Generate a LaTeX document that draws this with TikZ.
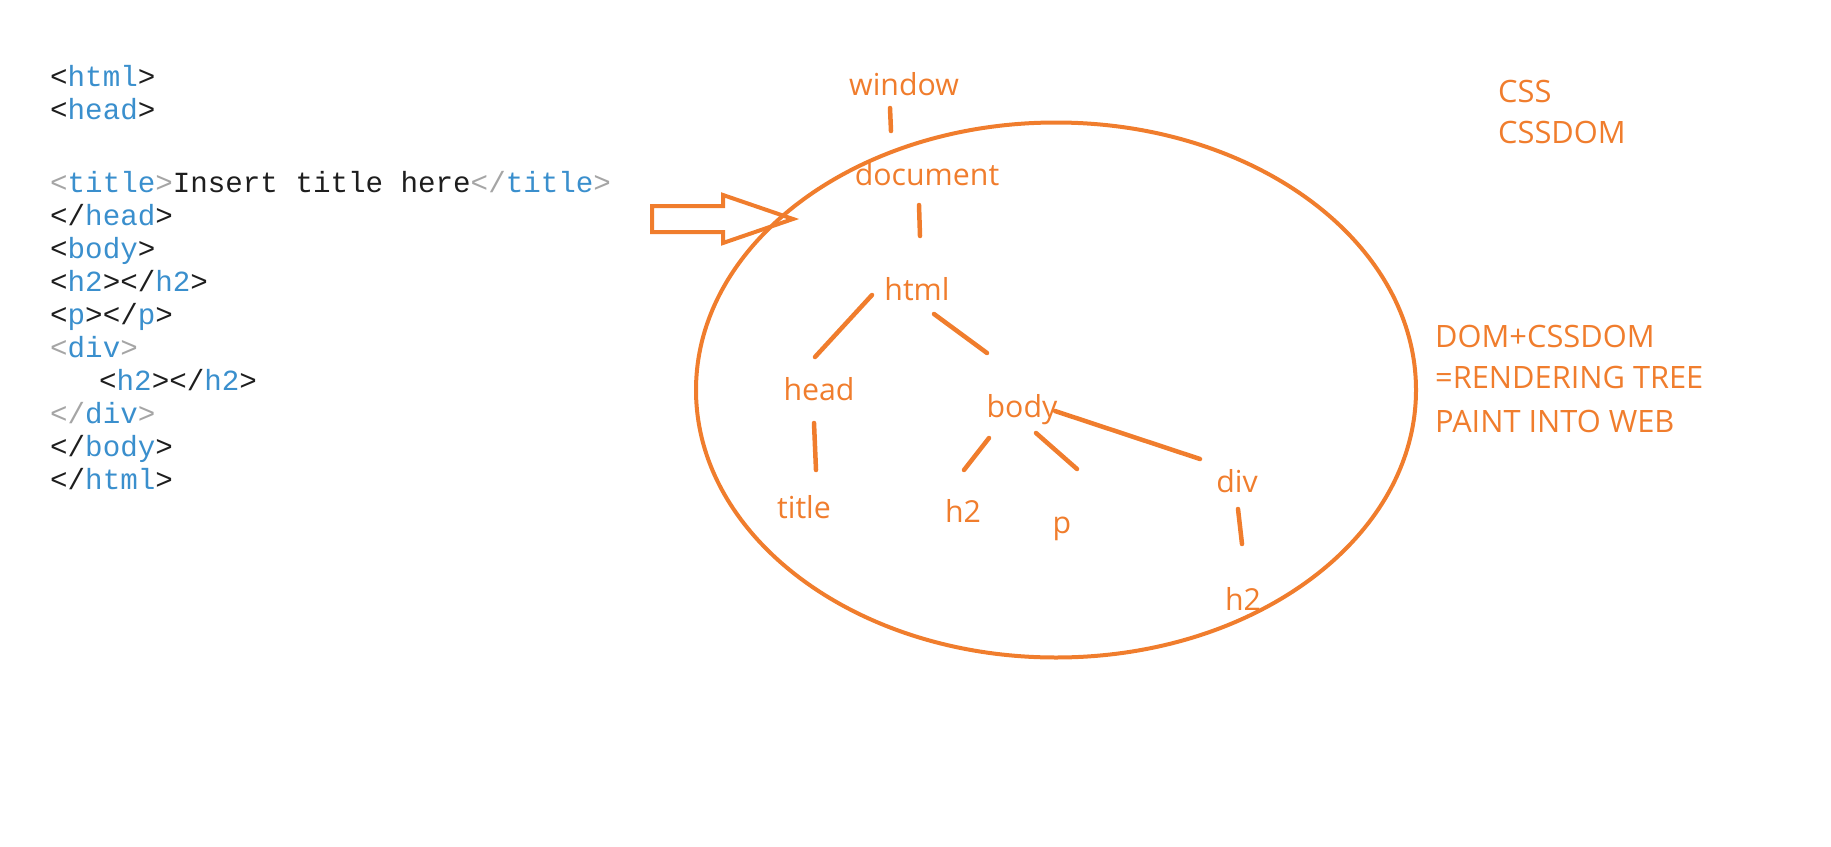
\documentclass[tikz,border=0pt]{standalone}
\usepackage{fontspec}
\setmainfont{Open Sans}
\setmonofont{Liberation Mono}
\usepackage{xcolor}
\usetikzlibrary{calc}
\definecolor{tagblue}{RGB}{58,143,205}
\definecolor{taggray}{RGB}{165,165,165}
\definecolor{codeblack}{RGB}{30,30,30}
\definecolor{domorange}{RGB}{240,125,45}
\newcommand\tg[1]{\textcolor{tagblue}{#1}}
\newcommand\gy[1]{\textcolor{taggray}{#1}}

\begin{document}
\begin{tikzpicture}[x=1pt, y=-1pt,
  code/.style={anchor=base west, inner sep=0pt, text=codeblack, font=\ttfamily\fontsize{29.2}{33}\selectfont},
  dom/.style={anchor=base, inner sep=0pt, text=domorange, font=\fontsize{30.3}{36}\selectfont},
  note/.style={anchor=base west, inner sep=0pt, text=domorange, font=\fontsize{30.8}{37}\selectfont},
  e/.style={line width=4.5pt, line cap=round, domorange}
]
  \useasboundingbox (0,0) rectangle (1831,846);

  % html source
  \node[code] (l1) at (50,86) {<\tg{html}>};
  \node[code] (l2) at (50,119) {<\tg{head}>};
  \node[code] (l3) at (50,192) {\gy{<}\tg{title}\gy{>}Insert title here\gy{</}\tg{title}\gy{>}};
  \node[code] (l4) at (50,225) {</\tg{head}>};
  \node[code] (l5) at (50,258) {<\tg{body}>};
  \node[code] (l6) at (50,291) {<\tg{h2}></\tg{h2}>};
  \node[code] (l7) at (50,324) {<\tg{p}></\tg{p}>};
  \node[code] (l8) at (50,357) {\gy{<}\tg{div}\gy{>}};
  \node[code] (l9) at (99,390) {<\tg{h2}></\tg{h2}>};
  \node[code] (l10) at (50,423) {\gy{</}\tg{div}\gy{>}};
  \node[code] (l11) at (50,456) {</\tg{body}>};
  \node[code] (l12) at (50,489) {</\tg{html}>};

  % block arrow
  \draw[domorange, line width=4pt] (652,206) -- (723,206) -- (723,195) -- (793,219)
    -- (723,243) -- (723,232) -- (652,232) -- cycle;

  % dom tree
  \draw[domorange, line width=4pt] (1056,390) ellipse [x radius=360, y radius=267.5];
  \node[dom] (window) at (904,95) {window};
  \node[dom] (document) at (927,185) {document};
  \node[dom] (html) at (917,300) {html};
  \node[dom] (head) at (819,400) {head};
  \node[dom] (body) at (1022,417) {body};
  \node[dom] (title) at (804,518) {title};
  \node[dom] (h2a) at (963,522) {h2};
  \node[dom] (p) at (1062,533) {p};
  \node[dom] (div) at (1237,492) {div};
  \node[dom] (h2b) at (1243,610) {h2};

  \draw[e] ([shift={(-14,13)}]window.base) -- ([shift={(-36,-54)}]document.base);
  \draw[e] ([shift={(-8,20)}]document.base) -- ([shift={(3,-64)}]html.base);
  \draw[e] ([shift={(-45,-5)}]html.base) -- ([shift={(-4,-43)}]head.base);
  \draw[e] ([shift={(17,14)}]html.base) -- ([shift={(-35,-64)}]body.base);
  \draw[e] ([shift={(-5,23)}]head.base) -- ([shift={(12,-48)}]title.base);
  \draw[e] ([shift={(-33,21)}]body.base) -- ([shift={(1,-52)}]h2a.base);
  \draw[e] ([shift={(14,16)}]body.base) -- ([shift={(15,-64)}]p.base);
  \draw[e] ([shift={(33,-6)}]body.base) -- ([shift={(-37,-33)}]div.base);
  \draw[e] ([shift={(1,17)}]div.base) -- ([shift={(-1,-66)}]h2b.base);

  % notes
  \node[note] (css) at (1498,102) {CSS};
  \node[note] (cssdom) at (1498,143) {CSSDOM};
  \node[note] (merge) at (1435,347) {DOM+CSSDOM};
  \node[note] (render) at (1435,388) {=RENDERING TREE};
  \node[note] (paint) at (1435,432) {PAINT INTO WEB};
\end{tikzpicture}
\end{document}
